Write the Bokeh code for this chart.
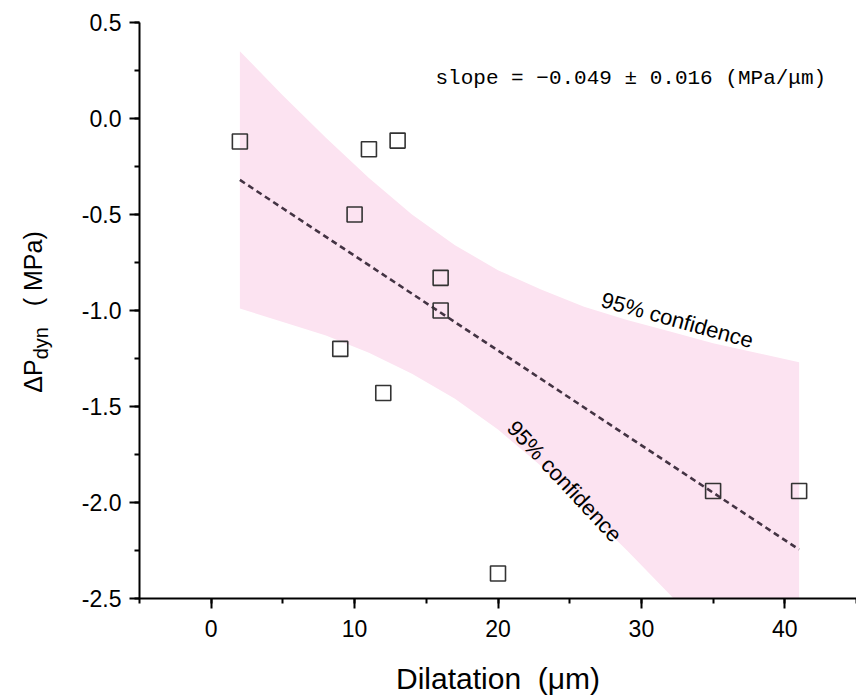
import math
from bokeh.plotting import figure
from bokeh.layouts import row
from bokeh.models import Label, SingleIntervalTicker, Range1d, NumeralTickFormatter, Div
from bokeh.embed import file_html
from bokeh.resources import INLINE

# ---- data ----
dilatation = [2, 9, 10, 11, 12, 13, 16, 16, 20, 35, 41]
dp_dyn = [-0.12, -1.20, -0.50, -0.16, -1.43, -0.115, -0.83, -1.00, -2.37, -1.94, -1.94]

fit_x = [2, 41]
fit_y = [-0.32, -2.245]

band_x = [2, 5, 8, 11, 14, 17, 20, 23, 26, 29, 32, 35, 38, 41]
band_upper = [0.35, 0.12, -0.10, -0.31, -0.50, -0.66, -0.79, -0.89, -0.98, -1.05, -1.11, -1.17, -1.22, -1.27]
band_lower = [-0.99, -1.06, -1.13, -1.22, -1.33, -1.46, -1.62, -1.81, -2.03, -2.25, -2.48, -2.72, -2.96, -3.21]

slope_text = "slope = \u22120.049 \u00b1 0.016 (MPa/\u03bcm)"
conf_text = "95% confidence"
x_label = "Dilatation\u00a0\u00a0(\u03bcm)"
y_label_main = "\u0394P"
y_label_sub = "dyn"
y_label_unit = "( MPa)"

SANS = "Liberation Sans"
LEFT_W = 60

p = figure(width=856 - LEFT_W, height=699, output_backend="svg", toolbar_location=None,
           x_range=Range1d(-5, 45), y_range=Range1d(-2.5, 0.5),
           min_border_left=139 - LEFT_W, min_border_right=0, min_border_top=22,
           min_border_bottom=101)
p.outline_line_color = None
p.xgrid.visible = False
p.ygrid.visible = False
p.background_fill_color = "white"
p.border_fill_color = "white"

# band
p.varea(x=band_x, y1=band_lower, y2=band_upper, fill_color="#fce3f1", fill_alpha=1.0)
# fit line
p.line(fit_x, fit_y, line_color="#433343", line_width=2.6, line_dash="6 4")
# points
p.scatter(dilatation, dp_dyn, marker="square", size=15, fill_color=None,
          line_color="#333333", line_width=1.6)

# axes styling
for ax in (p.xaxis[0], p.yaxis[0]):
    ax.axis_line_width = 2
    ax.axis_line_color = "black"
    ax.major_tick_line_width = 2
    ax.minor_tick_line_width = 2
    ax.major_tick_line_color = "black"
    ax.minor_tick_line_color = "black"
    ax.major_tick_in = 0
    ax.major_tick_out = 10
    ax.minor_tick_in = 0
    ax.minor_tick_out = 5
    ax.major_label_text_color = "black"

p.xaxis.ticker = SingleIntervalTicker(interval=10, num_minor_ticks=2)
p.yaxis.ticker = SingleIntervalTicker(interval=0.5, num_minor_ticks=2)
p.yaxis.formatter = NumeralTickFormatter(format="0.0")

p.xaxis.major_label_text_font = SANS
p.xaxis.major_label_text_font_size = "23px"
p.xaxis.major_label_standoff = 11
p.xaxis.axis_label = x_label
p.xaxis.axis_label_text_font = SANS
p.xaxis.axis_label_text_font_size = "30px"
p.xaxis.axis_label_text_font_style = "normal"
p.xaxis.axis_label_standoff = 22
p.xaxis.axis_label_text_color = "black"

p.yaxis.major_label_text_font = SANS
p.yaxis.major_label_text_font_size = "23px"
p.yaxis.major_label_standoff = 8

# annotations
p.add_layout(Label(x=15.64, y=0.208, text=slope_text, text_font="Liberation Mono",
                   text_font_size="21px", text_align="left", text_baseline="middle",
                   text_color="black"))
p.add_layout(Label(x=32.5, y=-1.05, text=conf_text, angle=math.radians(-15.5),
                   text_font=SANS, text_font_size="22px", text_align="center",
                   text_baseline="middle", text_color="black"))
p.add_layout(Label(x=24.64, y=-1.89, text=conf_text, angle=math.radians(-47),
                   text_font=SANS, text_font_size="22px", text_align="center",
                   text_baseline="middle", text_color="black"))

# y axis label with subscript (rotated HTML text in a narrow column to the left)
ylabel_html = (
    f'<div style="position:relative;width:{LEFT_W}px;height:699px;overflow:visible;">'
    '<div style="position:absolute;left:34px;top:312px;'
    "transform:translate(-50%,-50%) rotate(-90deg);white-space:nowrap;"
    "font-family:'Liberation Sans',Arial,sans-serif;font-size:25px;line-height:25px;color:black;\">"
    f'{y_label_main}<span style="position:relative;top:6px;font-size:20px;">{y_label_sub}</span>'
    f'&nbsp;&nbsp;&nbsp;{y_label_unit}</div></div>'
)
ylab = Div(text=ylabel_html, width=LEFT_W, height=699, margin=(0, 0, 0, 0),
           styles={"padding": "0", "margin": "0"})

layout = row(ylab, p, spacing=0, margin=(0, 0, 0, 0))
open("out.html", "w").write(file_html(layout, INLINE))
